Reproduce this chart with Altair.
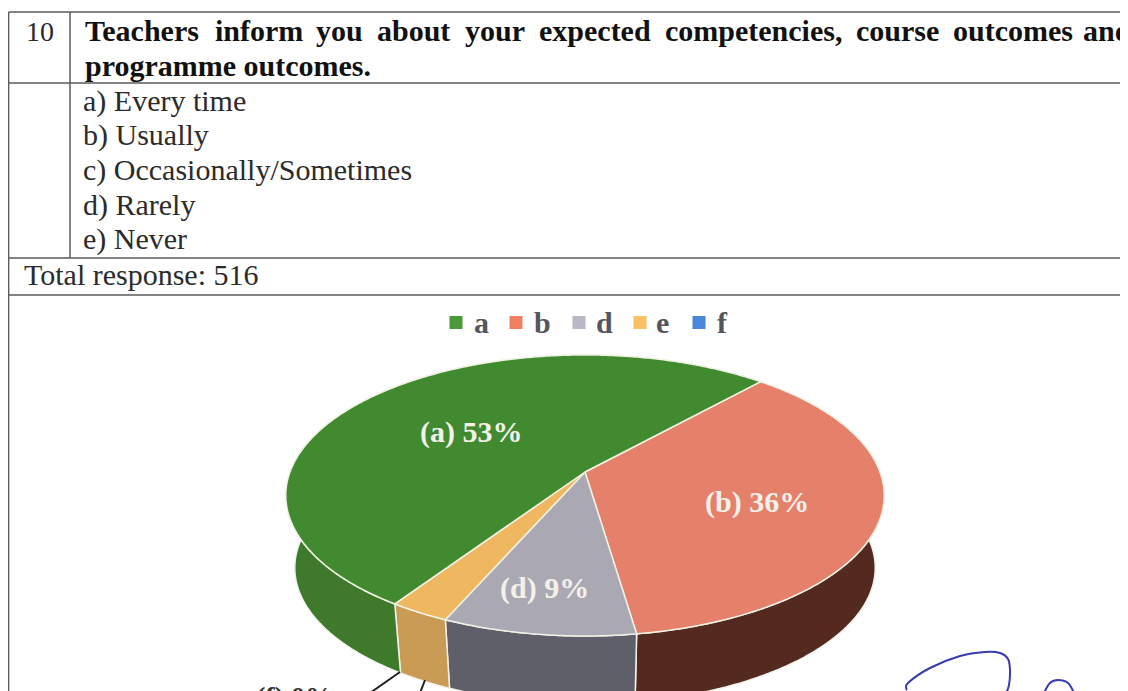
import numpy as np
import altair as alt

# ---- data ----
slices = ["a", "b", "d", "e", "f"]
# slice sizes as drawn (percent of the circle), clockwise from the a/b boundary: b, d, e, f, a
draw_order = ["b", "d", "e", "f", "a"]
shares = {"a": 52.3, "b": 36.0, "d": 8.9, "e": 2.8, "f": 0.0}
top_colors = {"a": "#418a2f", "b": "#e5816a", "d": "#aaa8b2", "e": "#efb860", "f": "#4a7fcf"}
side_colors = {"a": "#3f7a2c", "b": "#54291f", "d": "#5f5f69", "e": "#c99b55", "f": "#3a6299"}
legend_colors = {"a": "#4a9a38", "b": "#f0805f", "d": "#b9b8c6", "e": "#fbc063", "f": "#4a86dc"}

labels = ["(a) 53%", "(b) 36%", "(d) 9%", "(f) 0%"]
options = ["a) Every time", "b) Usually", "c) Occasionally/Sometimes", "d) Rarely", "e) Never"]
head_words = ["Teachers", "inform", "you", "about", "your", "expected", "competencies,", "course", "outcomes", "and"]
head_x = [85, 215, 316, 377, 465, 539, 665, 856, 953, 1083]

sig_a_x = [907, 908, 930, 960, 985, 1000, 1008, 1010, 1009, 1006]
sig_a_y = [690, 683, 668, 656, 652, 653, 659, 670, 685, 693]
sig_b_x = [1044, 1050, 1058, 1068, 1074]
sig_b_y = [693, 683, 680, 683, 693]

# ---- layout (image pixels; the page margin is 8) ----
M = 8
SERIF = "Liberation Serif"
APEX_X, APEX_Y = 585 - M, 472 - M
A, B, K = 295.0, 136.6, 0.167  # perspective pie
START = 42.0  # clockwise from the back of the pie


def rim(deg, cx=APEX_X, cy=APEX_Y, s=1.0):
    t = np.radians(deg)
    X, Y = np.sin(t), -np.cos(t)
    d = 1 - K * Y
    return cx + s * A * X / d, cy + s * B * Y / d


def poly(points, fill, stroke, sw):
    pts = [[float(x), float(y)] for x, y in points]
    pts.append(pts[0])
    return {"type": "Feature", "geometry": {"type": "Polygon", "coordinates": [pts]},
            "properties": {"fill": fill, "stroke": stroke, "sw": sw}}


sides, tops = [], []
ang = START
for k in draw_order:
    span = shares[k] * 3.6
    if span > 0:
        ts = np.linspace(ang, ang + span, max(int(span) * 2, 4))
        upper = [rim(t) for t in ts]
        lower = [rim(t, cy=545 - M, s=0.97) for t in ts[::-1]]
        sides.append(poly(upper + lower, side_colors[k], "#f2f2ea", 1.5))
        tops.append(poly([(APEX_X, APEX_Y)] + upper, top_colors[k], "#f0f2e4", 1.6))
    ang += span

features = sides + tops
pie = alt.Chart(alt.InlineData(values={"type": "FeatureCollection", "features": features},
                               format=alt.DataFormat(property="features", type="json"))).mark_geoshape(strokeWidth=1.5).encode(
    fill=alt.Fill("properties.fill:N", scale=None),
    stroke=alt.Stroke("properties.stroke:N", scale=None),
).project(type="identity", scale=1, translate=[0, 0])


def text(s, x, y, size=30, weight="normal", color="#2b2b2b", align="left"):
    return alt.Chart().mark_text(font=SERIF, fontSize=size, fontWeight=weight, color=color,
                                 align=align, baseline="alphabetic").encode(
        x=alt.value(x - M), y=alt.value(y - M), text=alt.value(s))


def rule(x1, y1, x2, y2, color="#5a5a5a", w=1.5):
    return alt.Chart().mark_rule(color=color, strokeWidth=w).encode(
        x=alt.value(x1 - M), x2=alt.value(x2 - M), y=alt.value(y1 - M), y2=alt.value(y2 - M))


grid = [
    rule(8.6, 12, 1128, 12), rule(8, 83, 1128, 83), rule(8, 258, 1128, 258), rule(8, 295, 1128, 295),
    rule(8.6, 12, 8.6, 691), rule(70, 12, 70, 258),
]

words = [text("10", 26, 41, size=28)] + [text(w, x, 41, weight="bold", color="#111111") for w, x in zip(head_words, head_x)]
words.append(text("programme outcomes.", 85, 76, weight="bold", color="#111111"))
for s, y in zip(options, [111, 145, 180, 215, 249]):
    words.append(text(s, 83, y))
words.append(text("Total response: 516", 24, 285))

legend = []
for k, sx, tx in zip(slices, [456, 516, 579, 640, 699], [474, 534, 596, 656, 717]):
    legend.append(alt.Chart().mark_point(shape="square", filled=True, opacity=1, size=170, color=legend_colors[k]).encode(
        x=alt.value(sx - M), y=alt.value(322.5 - M)))
    legend.append(text(k, tx, 333, size=30, weight="bold", color="#55555f"))

pie_labels = []
for s, x, y in zip(labels[:3], [420, 705, 500], [442, 512, 598]):
    pie_labels.append(text(s, x, y, size=30, weight="bold", color="#f4f1ea"))
pie_labels.append(text(labels[3], 256, 706, size=28, weight="bold", color="#333333"))

leaders = [rule(400, 672, 370, 693, color="#222222", w=2), rule(425, 680, 420, 693, color="#222222", w=2)]


def sig(xs, ys):
    pts = [{"x": x - M, "y": y - M, "i": i} for i, (x, y) in enumerate(zip(xs, ys))]
    return alt.Chart(alt.Data(values=pts)).mark_line(color="#3a3ab4", strokeWidth=2, interpolate="cardinal").encode(
        x=alt.X("x:Q", scale=None, axis=None), y=alt.Y("y:Q", scale=None, axis=None), order="i:Q")


chart = alt.layer(pie, *grid, *words, *legend, *pie_labels, *leaders, sig(sig_a_x, sig_a_y), sig(sig_b_x, sig_b_y)).properties(
    width=1112, height=683, padding=0, autosize=alt.AutoSizeParams(type="none"), background="#ffffff"
).configure_view(stroke=None)

chart.save("out.html", embed_options={"renderer": "svg", "actions": False})
